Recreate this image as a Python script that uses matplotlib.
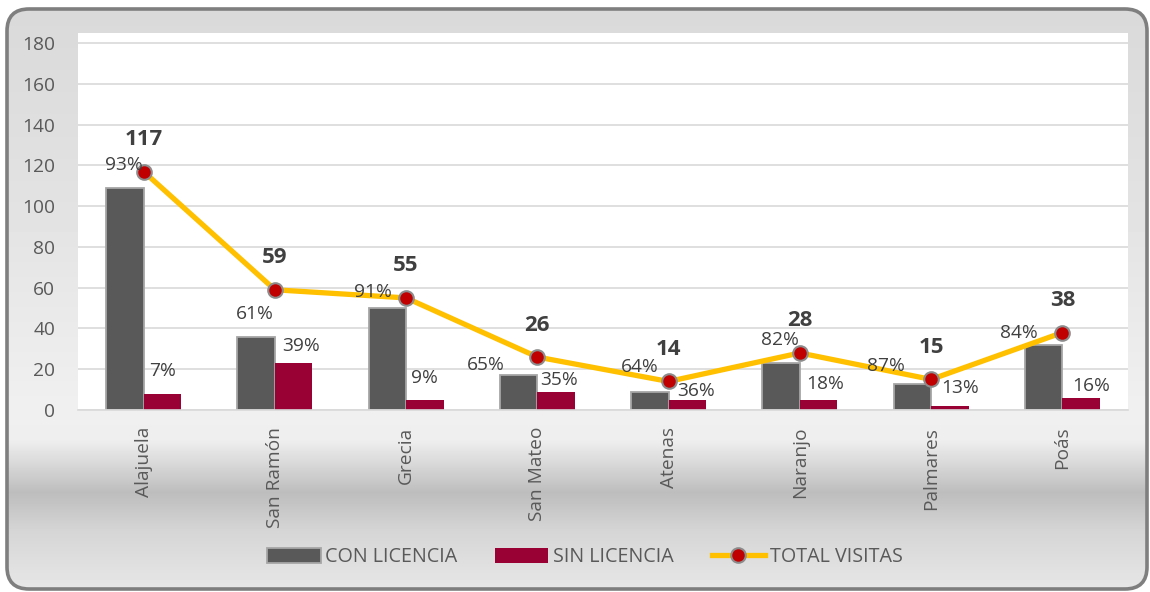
import matplotlib.pyplot as plt
import numpy as np
from matplotlib.patches import FancyBboxPatch, Patch
from matplotlib.lines import Line2D

plt.rcParams["font.family"] = ["Open Sans", "DejaVu Sans"]

# %% data

categories = ['Alajuela', 'San Ramón', 'Grecia', 'San Mateo', 'Atenas', 'Naranjo', 'Palmares', 'Poás']
con_licencia = [109, 36, 50, 17, 9, 23, 13, 32]
sin_licencia = [8, 23, 5, 9, 5, 5, 2, 6]
total_visitas = [117, 59, 55, 26, 14, 28, 15, 38]
pct_con = ['93%', '61%', '91%', '65%', '64%', '82%', '87%', '84%']
pct_sin = ['7%', '39%', '9%', '35%', '36%', '18%', '13%', '16%']
y_ticks = [0, 20, 40, 60, 80, 100, 120, 140, 160, 180]
legend_labels = ['CON LICENCIA', 'SIN LICENCIA', 'TOTAL VISITAS']

# label nudges in pixels (dx, up) from the bar top, as placed in the source chart
con_offsets = [(-1, 23), (-1, 23), (-14, 16), (-33, 10), (-10, 25), (-1, 23), (-26, 18), (-25, 12)]
sin_offsets = [(0, 23), (7, 17), (0, 22), (3, 12), (9, 9), (7, 16), (10, 18), (10, 12)]

# %% style

W, H = 1150, 592
C_CON = '#595959'
C_SIN = '#990033'
C_LINE = '#FFC000'
C_MARK = '#C00000'
C_TICK = '#595959'
C_LABEL = '#404040'
FS = 13.8
PT = 0.72  # points per pixel at dpi 100

fig = plt.figure(figsize=(W / 100, H / 100), dpi=100)
fig.patch.set_facecolor('white')

# background: rounded frame with vertical grey gradient
bg = fig.add_axes([0, 0, 1, 1], zorder=-1)
bg.set_xlim(0, W)
bg.set_ylim(H, 0)
bg.axis('off')
stops_y = [0, 200, 410, 440, 470, 492, 530, 592]
stops_v = [217, 226, 240, 238, 210, 189, 213, 232]
col = np.interp(np.arange(H), stops_y, stops_v) / 255
grad = np.repeat(col[:, None], 2, axis=1)
frame = FancyBboxPatch((7, 9), 1140, 580, boxstyle='round,pad=0,rounding_size=22',
                       facecolor='none', edgecolor='#7f7f7f', linewidth=2.6, zorder=3)
bg.add_patch(frame)
im = bg.imshow(grad, cmap='gray', vmin=0, vmax=1, extent=[0, W, H, 0], aspect='auto', zorder=1)
im.set_clip_path(frame)

# main plot area
ax = fig.add_axes([78 / W, 1 - 410 / H, 1050 / W, 377 / H])
ax.set_facecolor('white')

x = np.arange(len(categories))
bw = 0.285
ax.bar(x - bw / 2, con_licencia, bw, color=C_CON, edgecolor='#a6a6a6', linewidth=1.3, zorder=2)
ax.bar(x + bw / 2, sin_licencia, bw, color=C_SIN, linewidth=0, zorder=2)
ax.plot(x, total_visitas, color=C_LINE, linewidth=3.8, marker='o', markersize=10.5,
        markerfacecolor=C_MARK, markeredgecolor='#8c8c8c', markeredgewidth=1.5, zorder=3)

for i in range(len(categories)):
    dx, up = con_offsets[i]
    ax.annotate(pct_con[i], (x[i] - bw / 2, con_licencia[i]), xytext=(dx * PT, up * PT),
                textcoords='offset points', ha='center', va='center', fontsize=FS, color=C_LABEL, zorder=4)
    dx, up = sin_offsets[i]
    ax.annotate(pct_sin[i], (x[i] + bw / 2, sin_licencia[i]), xytext=(dx * PT, up * PT),
                textcoords='offset points', ha='center', va='center', fontsize=FS, color=C_LABEL, zorder=4)
    ax.annotate(str(total_visitas[i]), (x[i], total_visitas[i]), xytext=(0, 32 * PT),
                textcoords='offset points', ha='center', va='center', fontsize=16,
                fontweight='bold', color=C_LABEL, zorder=4)

ax.set_xlim(-0.5, len(categories) - 0.5)
ax.set_ylim(0, 185)
ax.set_yticks(y_ticks)
ax.set_xticks(x)
ax.set_xticklabels(categories, rotation=90)
ax.tick_params(axis='y', length=0, pad=16.5, labelsize=FS, labelcolor=C_TICK)
ax.tick_params(axis='x', length=0, pad=12, labelsize=FS, labelcolor=C_TICK)
ax.set_axisbelow(True)
ax.yaxis.grid(True, color='#d9d9d9', linewidth=1.2)
for side in ['top', 'right', 'left']:
    ax.spines[side].set_visible(False)
ax.spines['bottom'].set_color('#d9d9d9')
ax.spines['bottom'].set_linewidth(1.2)

handles = [
    Patch(facecolor=C_CON, edgecolor='#a6a6a6', linewidth=1.3),
    Patch(facecolor=C_SIN, linewidth=0),
    Line2D([], [], color=C_LINE, linewidth=3.8, marker='o', markersize=10.5,
           markerfacecolor=C_MARK, markeredgecolor='#8c8c8c', markeredgewidth=1.5),
]
fig.legend(handles, legend_labels, loc='center', bbox_to_anchor=(585 / W, 1 - 557 / H), ncol=3,
           frameon=False, handlelength=2.7, handleheight=0.8, handletextpad=0.25,
           columnspacing=1.9, fontsize=14.2, labelcolor=C_TICK)

plt.savefig('out.png', dpi=100)
